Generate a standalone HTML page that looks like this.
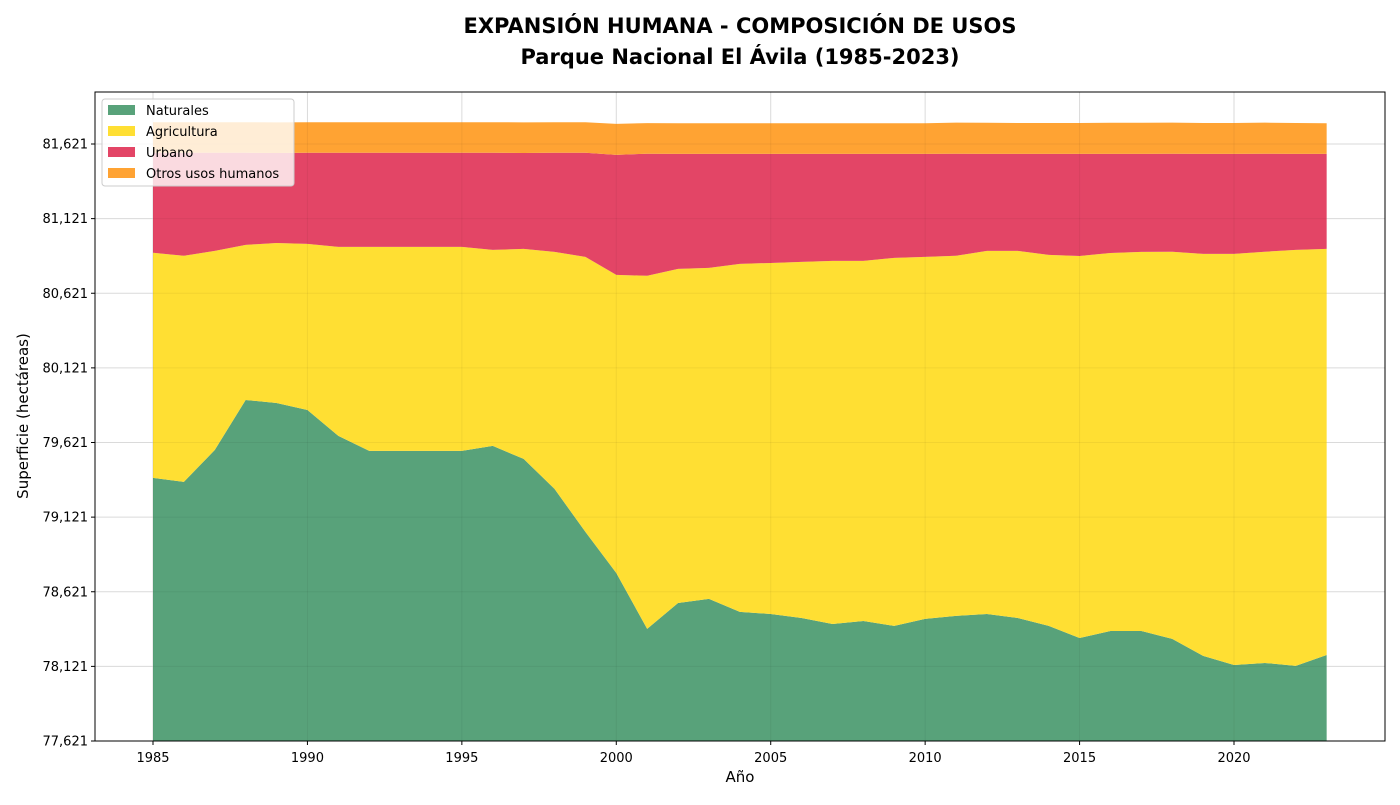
<!DOCTYPE html>
<html><head><meta charset="utf-8"><style>
body{margin:0;background:#fff;font-family:"Liberation Sans","DejaVu Sans",sans-serif}
</style></head><body>
<svg id="chart" width="1400" height="800" xmlns="http://www.w3.org/2000/svg" font-family="DejaVu Sans, Liberation Sans, sans-serif">
<text x="740" y="33" text-anchor="middle" font-size="21" font-weight="bold">EXPANSIÓN HUMANA - COMPOSICIÓN DE USOS</text>
<text x="740" y="64" text-anchor="middle" font-size="21" font-weight="bold">Parque Nacional El Ávila (1985-2023)</text>
<g id="plot"></g>
<rect x="95" y="92" width="1290" height="649" fill="none" stroke="#000" stroke-width="1"/>
<text x="740" y="782" text-anchor="middle" font-size="15">Año</text>
<text transform="translate(28,416) rotate(-90)" text-anchor="middle" font-size="15">Superficie (hectáreas)</text>
<g>
<rect x="102" y="99" width="192" height="87" rx="3" fill="#fff" fill-opacity="0.8" stroke="#ccc"/>
<rect x="108" y="105" width="27" height="10" fill="#58a27a"/>
<text x="146" y="115" font-size="13">Naturales</text>
<rect x="108" y="126" width="27" height="10" fill="#ffdf33"/>
<text x="146" y="136" font-size="13">Agricultura</text>
<rect x="108" y="147" width="27" height="10" fill="#e34566"/>
<text x="146" y="157" font-size="13">Urbano</text>
<rect x="108" y="168" width="27" height="10" fill="#ffa333"/>
<text x="146" y="178" font-size="13">Otros usos humanos</text>
</g>
</svg>
<script>
const years=[1985,1986,1987,1988,1989,1990,1991,1992,1993,1994,1995,1996,1997,1998,1999,2000,2001,2002,2003,2004,2005,2006,2007,2008,2009,2010,2011,2012,2013,2014,2015,2016,2017,2018,2019,2020,2021,2022,2023];
const naturales=[79384,79357,79571,79906,79886,79839,79665,79565,79565,79565,79565,79598,79511,79310,79022,78747,78372,78546,78573,78486,78472,78445,78405,78425,78392,78439,78459,78472,78445,78392,78311,78358,78358,78305,78191,78130,78144,78124,78197];
const agricultura=[1508,1515,1334,1039,1072,1113,1267,1367,1367,1367,1367,1314,1407,1588,1843,1997,2366,2238,2218,2332,2352,2386,2433,2413,2466,2426,2413,2433,2460,2486,2560,2533,2540,2594,2694,2755,2755,2788,2721];
const urbano=[670,690,657,617,603,610,630,630,630,630,630,650,643,664,697,804,818,771,764,737,731,724,717,717,697,690,684,650,650,677,684,664,657,657,670,670,657,643,637];
const otros=[205,205,205,205,205,205,205,205,205,205,205,205,205,205,205,208,205,205,205,205,205,205,205,205,205,205,208,208,207,207,207,208,208,208,207,207,208,207,205];
const yTicks=[77621,78121,78621,79121,79621,80121,80621,81121,81621];
const xTicks=[1985,1990,1995,2000,2005,2010,2015,2020];
const X0=95,X1=1385,Y0=92,Y1=741;
const xs=v=>153+(v-1985)*(1234-153)/35;
const ys=v=>741-(v-77621)*(597/4000);
const NS="http://www.w3.org/2000/svg";
const g=document.getElementById('plot');
function el(t,a){const e=document.createElementNS(NS,t);for(const k in a)e.setAttribute(k,a[k]);g.appendChild(e);return e;}
yTicks.forEach(t=>{const y=ys(t);
 const l=el('line',{x1:X0,x2:X1,y1:y,y2:y,stroke:'#e6e6e6'});
 
 
 el('line',{x1:X0-4,x2:X0,y1:y,y2:y,stroke:'#000'});
 const tx=el('text',{x:X0-7,y:y+4.5,'text-anchor':'end','font-size':13});tx.textContent=t.toLocaleString('en-US');
 
 
});
xTicks.forEach(t=>{const x=xs(t);
 const l=el('line',{x1:x,x2:x,y1:Y0,y2:Y1,stroke:'#e6e6e6'});
 
 
 el('line',{x1:x,x2:x,y1:Y1,y2:Y1+4,stroke:'#000'});
 const tx=el('text',{x:x,y:Y1+21,'text-anchor':'middle','font-size':13});tx.textContent=t;
 
 
});
const series=[['naturales',naturales,'#58a27a'],['agricultura',agricultura,'#ffdf33'],['urbano',urbano,'#e34566'],['otros',otros,'#ffa333']];
let base=years.map(()=>0);
series.forEach(([n,vals,c],si)=>{
 const top=base.map((b,i)=>si===0?vals[i]:b+vals[i]);
 const bot=si===0?years.map(()=>77621):base;
 let d='M'+years.map((yr,i)=>xs(yr)+','+ys(top[i])).join(' L');
 for(let i=years.length-1;i>=0;i--)d+=' L'+xs(years[i])+','+ys(bot[i]);
 const p=el('path',{d:d+'Z',fill:c});
 
 
 base=top;
});
yTicks.forEach(t=>{el('line',{x1:X0,x2:X1,y1:ys(t),y2:ys(t),stroke:'#000','stroke-opacity':0.05});});
xTicks.forEach(t=>{el('line',{x1:xs(t),x2:xs(t),y1:Y0,y2:Y1,stroke:'#000','stroke-opacity':0.05});});
</script>
</body></html>
